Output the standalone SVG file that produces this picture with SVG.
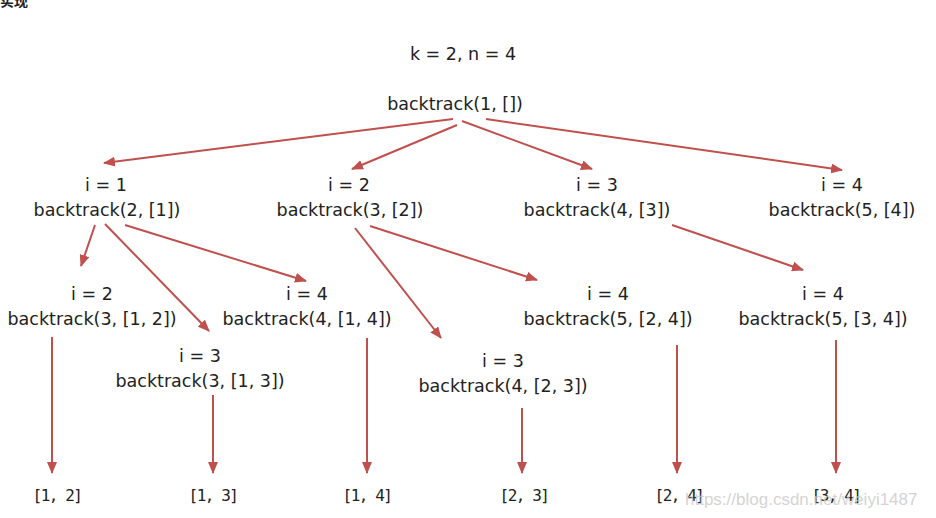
<svg xmlns="http://www.w3.org/2000/svg" width="936" height="518" viewBox="0 0 936 518">
<style>
.t{font-family:"DejaVu Sans","Noto Sans",sans-serif;font-size:17.5px;fill:#222;text-anchor:middle}
.l{font-family:"DejaVu Sans Mono","Liberation Mono",monospace;font-size:16px;letter-spacing:-1.5px;fill:#222;text-anchor:middle}
.e{stroke:#c0504d;stroke-width:2;fill:none;marker-end:url(#ah)}
.wm{font-family:"Liberation Sans",sans-serif;font-size:17px;fill:#c8c8c8;fill-opacity:0.8}
</style>
<defs>
<marker id="ah" viewBox="0 0 12 10" refX="11" refY="5" markerWidth="12" markerHeight="10" markerUnits="userSpaceOnUse" orient="auto">
<path d="M0,0 L12,5 L0,10 Z" fill="#c0504d"/>
</marker>
</defs>
<rect width="936" height="518" fill="#fff"/>
<text x="0" y="6" font-family="Noto Sans CJK SC,sans-serif" font-size="14" font-weight="bold" fill="#222">实现</text>
<g id="title"><text class="t" x="463" y="60">k = 2, n = 4</text></g>
<g id="connectors">
<path class="e" d="M453,119 L104,163"/>
<path class="e" d="M457,125 L352,169"/>
<path class="e" d="M462,121 L592,169"/>
<path class="e" d="M486,119 L842,170"/>
<path class="e" d="M95,225 L81,266"/>
<path class="e" d="M105,224 L209,331"/>
<path class="e" d="M125,225 L306,281"/>
<path class="e" d="M355,228 L441,338"/>
<path class="e" d="M370,226 L537,280"/>
<path class="e" d="M672,225 L803,270"/>
<path class="e" d="M52,337 L52,473"/>
<path class="e" d="M213,395 L213,473"/>
<path class="e" d="M367,338 L367,473"/>
<path class="e" d="M522,408 L522,473"/>
<path class="e" d="M677,345 L677,473"/>
<path class="e" d="M836,340 L836,473"/>
</g>
<g id="root"><text class="t" x="455" y="110">backtrack(1, [])</text></g>
<g id="n1"><text class="t" x="106" y="191">i = 1</text><text class="t" x="107" y="216">backtrack(2, [1])</text></g>
<g id="n2"><text class="t" x="349" y="191">i = 2</text><text class="t" x="350" y="216">backtrack(3, [2])</text></g>
<g id="n3"><text class="t" x="597" y="191">i = 3</text><text class="t" x="597" y="216">backtrack(4, [3])</text></g>
<g id="n4"><text class="t" x="842" y="191">i = 4</text><text class="t" x="842" y="216">backtrack(5, [4])</text></g>
<g id="n12"><text class="t" x="92" y="300">i = 2</text><text class="t" x="92" y="325">backtrack(3, [1, 2])</text></g>
<g id="n13"><text class="t" x="200" y="362">i = 3</text><text class="t" x="200" y="387">backtrack(3, [1, 3])</text></g>
<g id="n14"><text class="t" x="307" y="300">i = 4</text><text class="t" x="307" y="325">backtrack(4, [1, 4])</text></g>
<g id="n23"><text class="t" x="503" y="367">i = 3</text><text class="t" x="503" y="392">backtrack(4, [2, 3])</text></g>
<g id="n24"><text class="t" x="608" y="300">i = 4</text><text class="t" x="608" y="325">backtrack(5, [2, 4])</text></g>
<g id="n34"><text class="t" x="823" y="300">i = 4</text><text class="t" x="823" y="325">backtrack(5, [3, 4])</text></g>
<g id="leaf12"><text class="l" x="57" y="501">[1, 2]</text></g>
<g id="leaf13"><text class="l" x="213" y="501">[1, 3]</text></g>
<g id="leaf14"><text class="l" x="367" y="501">[1, 4]</text></g>
<g id="leaf23"><text class="l" x="524" y="501">[2, 3]</text></g>
<g id="leaf24"><text class="l" x="679" y="501">[2, 4]</text></g>
<g id="leaf34"><text class="l" x="836" y="501">[3, 4]</text></g>
<text class="wm" x="685" y="505">https://blog.csdn.net/weiyi1487</text>
</svg>
